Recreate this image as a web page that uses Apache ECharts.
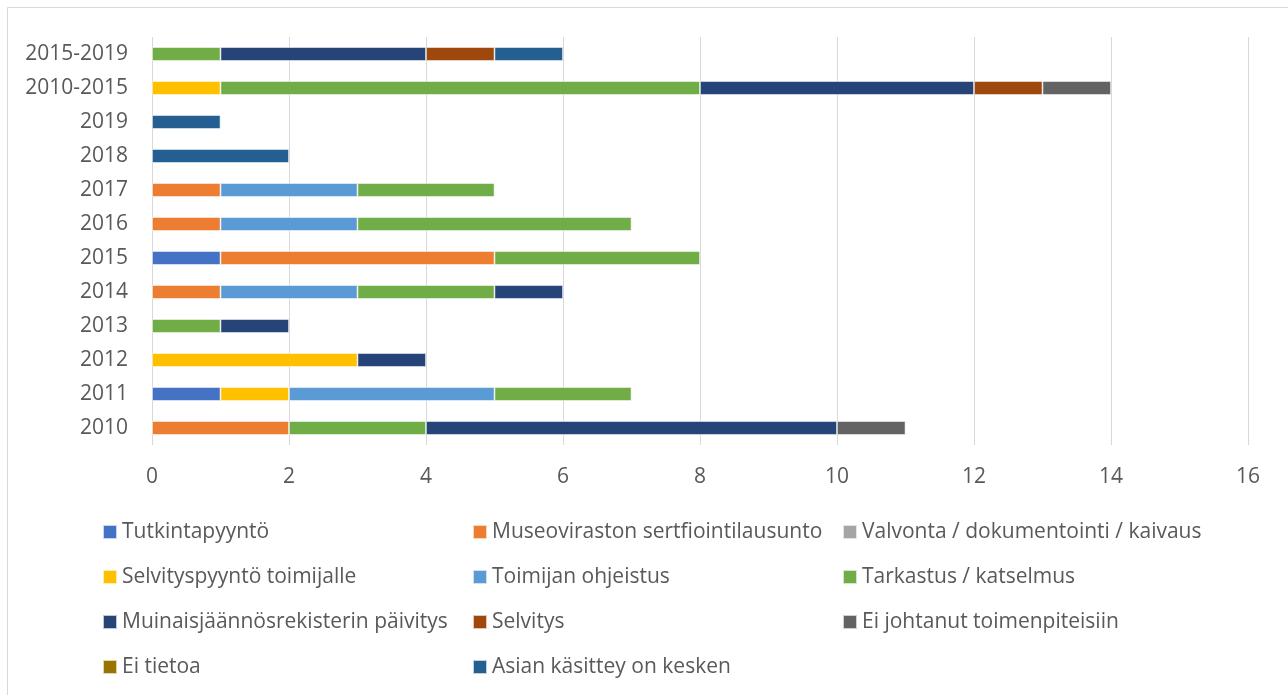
<!DOCTYPE html>
<html>
<head>
<meta charset="utf-8">
<script src="https://cdn.jsdelivr.net/npm/echarts@6/dist/echarts.min.js"></script>
<style>
  html, body { margin: 0; padding: 0; background: #fff; }
  #chart { width: 1288px; height: 695px; }
</style>
</head>
<body>
<div id="chart"></div>
<script>
const categories = ['2010', '2011', '2012', '2013', '2014', '2015', '2016', '2017', '2018', '2019', '2010-2015', '2015-2019'];
const xTicks = [0, 2, 4, 6, 8, 10, 12, 14, 16];

const tutkintapyynto = [0, 1, 0, 0, 0, 1, 0, 0, 0, 0, 0, 0];
const museovirasto = [2, 0, 0, 0, 1, 4, 1, 1, 0, 0, 0, 0];
const valvonta = [0, 0, 0, 0, 0, 0, 0, 0, 0, 0, 0, 0];
const selvityspyynto = [0, 1, 3, 0, 0, 0, 0, 0, 0, 0, 1, 0];
const toimijanOhjeistus = [0, 3, 0, 0, 2, 0, 2, 2, 0, 0, 0, 0];
const tarkastus = [2, 2, 0, 1, 2, 3, 4, 2, 0, 0, 7, 1];
const muinaisjaannos = [6, 0, 1, 1, 1, 0, 0, 0, 0, 0, 4, 3];
const selvitys = [0, 0, 0, 0, 0, 0, 0, 0, 0, 0, 1, 1];
const eiJohtanut = [1, 0, 0, 0, 0, 0, 0, 0, 0, 0, 1, 0];
const eiTietoa = [0, 0, 0, 0, 0, 0, 0, 0, 0, 0, 0, 0];
const asianKasittely = [0, 0, 0, 0, 0, 0, 0, 0, 2, 1, 0, 1];

const seriesDefs = [
  { name: 'Tutkintapyyntö', data: tutkintapyynto, color: '#4472C4' },
  { name: 'Museoviraston sertfiointilausunto', data: museovirasto, color: '#ED7D31' },
  { name: 'Valvonta / dokumentointi / kaivaus', data: valvonta, color: '#A5A5A5' },
  { name: 'Selvityspyyntö toimijalle', data: selvityspyynto, color: '#FFC000' },
  { name: 'Toimijan ohjeistus', data: toimijanOhjeistus, color: '#5B9BD5' },
  { name: 'Tarkastus / katselmus', data: tarkastus, color: '#70AD47' },
  { name: 'Muinaisjäännösrekisterin päivitys', data: muinaisjaannos, color: '#264478' },
  { name: 'Selvitys', data: selvitys, color: '#9E480E' },
  { name: 'Ei johtanut toimenpiteisiin', data: eiJohtanut, color: '#636363' },
  { name: 'Ei tietoa', data: eiTietoa, color: '#997300' },
  { name: 'Asian käsittey on kesken', data: asianKasittely, color: '#255E91' }
];

const fontFamily = '"Open Sans", sans-serif';
const textColor = '#595959';

const series = seriesDefs.map(s => ({
  name: s.name,
  type: 'bar',
  stack: 'total',
  barWidth: 14,
  data: s.data.map(v => (v === 0 ? '-' : v)),
  itemStyle: {
    color: s.color,
    borderColor: 'rgba(255,255,255,0.7)',
    borderWidth: 0.8
  }
}));

// three legend columns, same order as the original
const legendCols = [[0, 3, 6, 9], [1, 4, 7, 10], [2, 5, 8]];
const legendLeft = [102, 472, 842];
const legends = legendCols.map((idx, i) => ({
  orient: 'vertical',
  left: legendLeft[i],
  top: 521,
  padding: 0,
  icon: 'rect',
  itemWidth: 14,
  itemHeight: 14,
  itemGap: 23,
  selectedMode: false,
  data: idx.map(k => seriesDefs[k].name),
  textStyle: {
    color: textColor,
    fontSize: 21,
    lineHeight: 22,
    fontFamily: fontFamily
  }
}));

const myChart = echarts.init(document.getElementById('chart'));

const option = {
  animation: false,
  backgroundColor: '#fff',
  graphic: [
    {
      type: 'rect',
      shape: { x: 7.5, y: 7.5, width: 1300, height: 700 },
      style: { fill: 'none', stroke: '#D9D9D9', lineWidth: 1 },
      silent: true
    }
  ],
  grid: {
    left: 152,
    right: 40,
    top: 37,
    bottom: 250,
    containLabel: false
  },
  legend: legends,
  xAxis: {
    type: 'value',
    min: 0,
    max: 16,
    interval: 2,
    axisLine: { show: false },
    axisTick: { show: false },
    splitLine: { lineStyle: { color: '#D9D9D9', width: 1 } },
    axisLabel: {
      color: textColor,
      fontSize: 21,
      fontFamily: fontFamily,
      margin: 22,
      formatter: v => (xTicks.includes(v) ? String(v) : '')
    }
  },
  yAxis: {
    type: 'category',
    data: categories,
    axisLine: { show: false },
    axisTick: { show: false },
    axisLabel: {
      color: textColor,
      fontSize: 21,
      fontFamily: fontFamily,
      margin: 24
    }
  },
  series: series
};

myChart.setOption(option);
</script>
</body>
</html>
